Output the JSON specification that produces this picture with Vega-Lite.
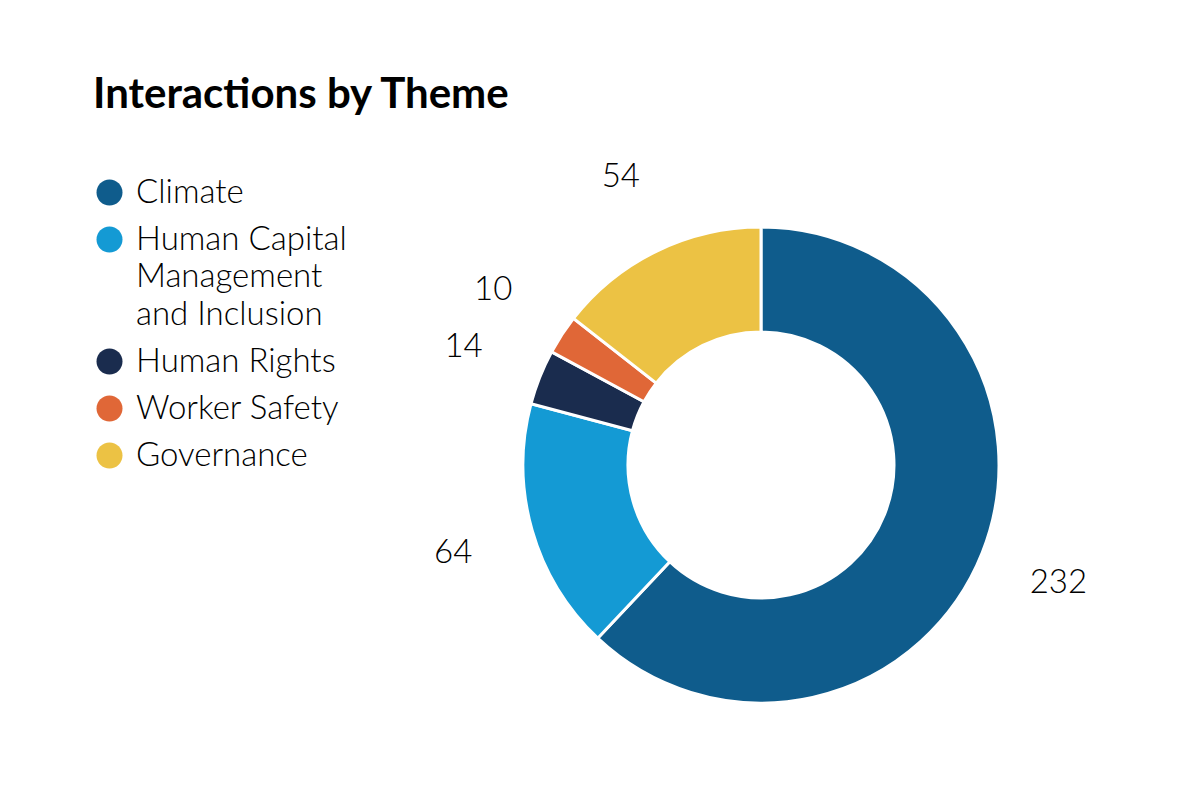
{
  "$schema": "https://vega.github.io/schema/vega-lite/v6.json",
  "width": 788,
  "height": 578,
  "padding": {"left": 93, "top": 74, "right": 0, "bottom": 0},
  "background": "white",
  "title": {
    "text": "Interactions by Theme",
    "anchor": "start",
    "font": "Lato",
    "fontSize": 42,
    "fontWeight": "bold",
    "color": "#000000",
    "offset": 44
  },
  "data": {
    "values": [
      {"theme": "Climate", "value": 232, "order": 1},
      {"theme": "Human Capital Management and Inclusion", "value": 64, "order": 2},
      {"theme": "Human Rights", "value": 14, "order": 3},
      {"theme": "Worker Safety", "value": 10, "order": 4},
      {"theme": "Governance", "value": 54, "order": 5}
    ]
  },
  "encoding": {
    "theta": {"field": "value", "type": "quantitative", "stack": true},
    "order": {"field": "order", "type": "quantitative"}
  },
  "layer": [
    {
      "mark": {"type": "arc", "outerRadius": 238, "innerRadius": 133, "stroke": "white", "strokeWidth": 3},
      "encoding": {
        "color": {
          "field": "theme",
          "type": "nominal",
          "scale": {
            "domain": ["Climate", "Human Capital Management and Inclusion", "Human Rights", "Worker Safety", "Governance"],
            "range": ["#0f5c8c", "#149ad4", "#1a2c4e", "#e06737", "#ecc244"]
          },
          "legend": {
            "title": null,
            "orient": "left",
            "offset": 20,
            "symbolType": "circle",
            "symbolSize": 676,
            "symbolStrokeWidth": 0,
            "labelFont": "Lato",
            "labelFontWeight": 300,
            "labelFontSize": 33,
            "labelColor": "#000000",
            "labelOffset": 10,
            "labelLimit": 500,
            "rowPadding": 13,
            "labelExpr": "datum.label == 'Human Capital Management and Inclusion' ? ['Human Capital', 'Management', 'and Inclusion'] : datum.label"
          }
        }
      }
    },
    {
      "mark": {"type": "text", "radius": 320, "font": "Lato", "fontWeight": 300, "fontSize": 33, "color": "#000000"},
      "encoding": {
        "text": {"field": "value", "type": "quantitative"}
      }
    }
  ],
  "config": {
    "view": {"stroke": null},
    "style": {"guide-label": {"lineHeight": 37.5}}
  }
}
